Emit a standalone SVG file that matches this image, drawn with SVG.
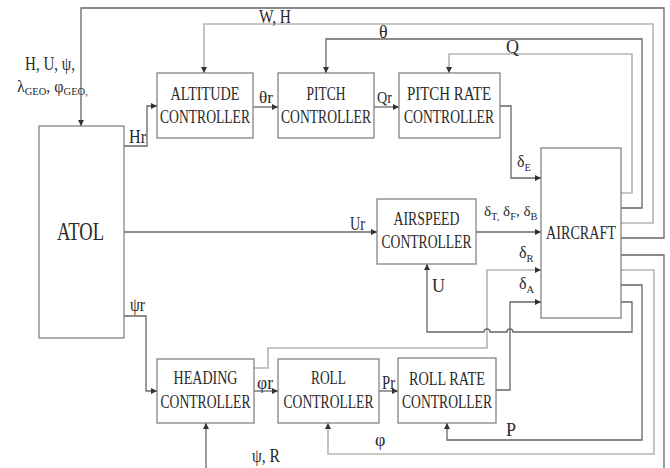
<svg xmlns="http://www.w3.org/2000/svg" width="670" height="468" viewBox="0 0 670 468">
<style>
.box{fill:#fff;stroke:#7a7a7a;stroke-width:1.2}
.t{font-family:"Liberation Serif","Times New Roman",serif;font-size:18px;fill:#2a2a2a}
.c{text-anchor:middle}
.s{font-size:16px}
.dk{fill:none;stroke:#666;stroke-width:1.3}
.lt{fill:none;stroke:#b5b5b5;stroke-width:1.6}
.sub{font-size:10.5px}
</style>
<defs>
<marker id="a" markerWidth="6" markerHeight="6" refX="6" refY="3" orient="auto" markerUnits="userSpaceOnUse">
<path d="M0,0 L6,3 L0,6 z" fill="#333"/>
</marker>
</defs>
<rect width="670" height="468" fill="#fff"/>
<g id="connectors">
<path class="dk" d="M621,238 H664 V8 H81 V126" marker-end="url(#a)"/>
<path class="lt" d="M621,223 H653 V24 H204 V73" marker-end="url(#a)"/>
<path class="dk" d="M621,208 H642 V39 H326 V73" marker-end="url(#a)"/>
<path class="lt" d="M621,193 H632 V54 H449 V73" marker-end="url(#a)"/>
<path class="dk" d="M124,146 H147 V106 H157" marker-end="url(#a)"/>
<path class="dk" d="M253,107 H278" marker-end="url(#a)"/>
<path class="dk" d="M374,107 H399" marker-end="url(#a)"/>
<path class="dk" d="M500,106 H511 V178 H541" marker-end="url(#a)"/>
<path class="dk" d="M124,232 H377" marker-end="url(#a)"/>
<path class="dk" d="M476,232 H541" marker-end="url(#a)"/>
<path class="dk" d="M124,316 H146 V391 H157" marker-end="url(#a)"/>
<path class="dk" d="M254,391 H278" marker-end="url(#a)"/>
<path class="dk" d="M379,391 H398" marker-end="url(#a)"/>
<path class="lt" d="M254,368 H268 V348 H487 V270 H541" marker-end="url(#a)"/>
<path class="dk" d="M496,390 H510 V302 H541" marker-end="url(#a)"/>
<path class="dk" d="M621,302 H632 V332 H513 A3,3 0 0 0 507,332 H490 A3,3 0 0 0 484,332 H427 V264" marker-end="url(#a)"/>
<path class="dk" d="M621,285 H642 V440 H447 V423" marker-end="url(#a)"/>
<path class="lt" d="M621,270 H654 V454 H328 V423" marker-end="url(#a)"/>
<path class="dk" d="M621,255 H664 V472 H206 V423" marker-end="url(#a)"/>
</g>
<g id="atol">
<rect class="box" x="39" y="126" width="85" height="212"/>
<text class="t c" x="80.5" y="240" style="font-size:25px" textLength="47" lengthAdjust="spacingAndGlyphs">ATOL</text>
</g>
<g id="altitude">
<rect class="box" x="157" y="73" width="96" height="65"/>
<text class="t c" x="205" y="100" textLength="69" lengthAdjust="spacingAndGlyphs">ALTITUDE</text>
<text class="t c" x="205" y="123" textLength="90" lengthAdjust="spacingAndGlyphs">CONTROLLER</text>
</g>
<g id="pitch">
<rect class="box" x="278" y="73" width="96" height="65"/>
<text class="t c" x="326" y="100" textLength="39" lengthAdjust="spacingAndGlyphs">PITCH</text>
<text class="t c" x="326" y="123" textLength="90" lengthAdjust="spacingAndGlyphs">CONTROLLER</text>
</g>
<g id="pitchrate">
<rect class="box" x="399" y="73" width="101" height="65"/>
<text class="t c" x="449" y="100" textLength="84" lengthAdjust="spacingAndGlyphs">PITCH RATE</text>
<text class="t c" x="449" y="123" textLength="90" lengthAdjust="spacingAndGlyphs">CONTROLLER</text>
</g>
<g id="airspeed">
<rect class="box" x="377" y="199" width="99" height="65"/>
<text class="t c" x="426.5" y="225" textLength="66" lengthAdjust="spacingAndGlyphs">AIRSPEED</text>
<text class="t c" x="426.5" y="248" textLength="90" lengthAdjust="spacingAndGlyphs">CONTROLLER</text>
</g>
<g id="aircraft">
<rect class="box" x="541" y="148" width="80" height="170"/>
<text class="t c" x="581" y="239" textLength="70" lengthAdjust="spacingAndGlyphs">AIRCRAFT</text>
</g>
<g id="heading">
<rect class="box" x="157" y="359" width="97" height="64"/>
<text class="t c" x="205.5" y="384" textLength="64" lengthAdjust="spacingAndGlyphs">HEADING</text>
<text class="t c" x="205.5" y="408" textLength="90" lengthAdjust="spacingAndGlyphs">CONTROLLER</text>
</g>
<g id="roll">
<rect class="box" x="278" y="359" width="101" height="64"/>
<text class="t c" x="328.5" y="384" textLength="35" lengthAdjust="spacingAndGlyphs">ROLL</text>
<text class="t c" x="328.5" y="408" textLength="90" lengthAdjust="spacingAndGlyphs">CONTROLLER</text>
</g>
<g id="rollrate">
<rect class="box" x="398" y="358" width="98" height="65"/>
<text class="t c" x="447" y="385" textLength="76" lengthAdjust="spacingAndGlyphs">ROLL RATE</text>
<text class="t c" x="447" y="408" textLength="90" lengthAdjust="spacingAndGlyphs">CONTROLLER</text>
</g>
<g id="labels">
<text class="t" x="25" y="70" textLength="50" lengthAdjust="spacingAndGlyphs">H, U, ψ,</text>
<text class="t s" x="17" y="92">λ<tspan class="sub" dy="3">GEO</tspan><tspan dy="-3">, φ</tspan><tspan class="sub" dy="3">GEO,</tspan></text>
<text class="t" x="259" y="23" textLength="32" lengthAdjust="spacingAndGlyphs">W, H</text>
<text class="t" x="379" y="38">θ</text>
<text class="t" x="506" y="53">Q</text>
<text class="t" x="129" y="143" textLength="17" lengthAdjust="spacingAndGlyphs">Hr</text>
<text class="t" x="259" y="103" style="font-size:17px" textLength="14" lengthAdjust="spacingAndGlyphs">θr</text>
<text class="t" x="377" y="103" style="font-size:17px" textLength="15" lengthAdjust="spacingAndGlyphs">Qr</text>
<text class="t s" x="517" y="167">δ<tspan class="sub" dy="4">E</tspan></text>
<text class="t" x="484" y="216" style="font-size:15px">δ<tspan class="sub" dy="4">T,</tspan><tspan dy="-4"> δ</tspan><tspan class="sub" dy="4">F</tspan><tspan dy="-4">, δ</tspan><tspan class="sub" dy="4">B</tspan></text>
<text class="t" x="350" y="230" textLength="15" lengthAdjust="spacingAndGlyphs">Ur</text>
<text class="t s" x="519" y="258">δ<tspan class="sub" dy="4">R</tspan></text>
<text class="t s" x="519" y="289">δ<tspan class="sub" dy="4">A</tspan></text>
<text class="t" x="432" y="292">U</text>
<text class="t" x="130" y="311" textLength="15" lengthAdjust="spacingAndGlyphs">ψr</text>
<text class="t" x="257" y="389" textLength="16" lengthAdjust="spacingAndGlyphs">φr</text>
<text class="t" x="382" y="389" textLength="13" lengthAdjust="spacingAndGlyphs">Pr</text>
<text class="t" x="375" y="446">φ</text>
<text class="t" x="506" y="436">P</text>
<text class="t" x="252" y="462" textLength="28" lengthAdjust="spacingAndGlyphs">ψ, R</text>
</g>
</svg>
